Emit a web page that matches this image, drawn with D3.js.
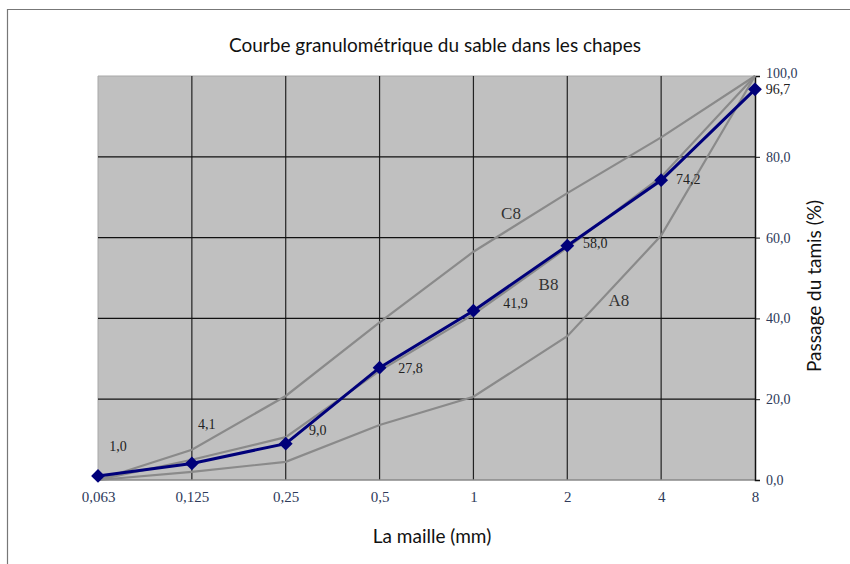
<!DOCTYPE html>
<html><head><meta charset="utf-8">
<script src="https://cdn.jsdelivr.net/npm/d3@7"></script>
<style>body{margin:0;background:#fff;}svg{display:block;}</style>
</head><body>
<svg id="c" width="850" height="564"></svg>
<script>
const sieves = ["0,063","0,125","0,25","0,5","1","2","4","8"];
const sample = [1.0, 4.1, 9.0, 27.8, 41.9, 58.0, 74.2, 96.7];
const curveC8 = [0, 7.5, 20.8, 39.0, 56.5, 71.0, 84.8, 100];
const curveB8 = [0, 5.0, 10.6, 27.0, 41.0, 57.5, 75.0, 100];
const curveA8 = [0, 2.0, 4.5, 13.6, 20.6, 35.6, 60.5, 100];
const yTicks = [0, 20, 40, 60, 80, 100];
const sampleLabelOffsets = [[20,-30],[15,-39],[32,-14],[31,0],[42,-8],[28,-3],[27,-1],[23,0]];
const refLabels = [{name:"C8", at:4.4, v:66}, {name:"B8", at:4.8, v:48.5}, {name:"A8", at:5.55, v:44.5}];

const svg = d3.select("#c");
const L = 98, R = 755, T = 76, B = 480;
const x = d3.scalePoint().domain(sieves).range([L, R]);
const y = d3.scaleLinear().domain([0, 100]).range([B, T]);
const fmt = v => v.toFixed(1).replace(".", ",");
const serif = "'Liberation Serif', 'DejaVu Serif', serif";
const sans = "Lato, 'Open Sans', sans-serif";

// outer frame
svg.append("line").attr("x1",7.5).attr("x2",7.5).attr("y1",9).attr("y2",564).attr("stroke","#777").attr("stroke-width",1.2);
svg.append("line").attr("x1",7.5).attr("x2",850).attr("y1",9.5).attr("y2",9.5).attr("stroke","#777").attr("stroke-width",1.2);

// plot background
svg.append("rect").attr("x",L).attr("y",T).attr("width",R-L).attr("height",B-T).attr("fill","#c0c0c0");
svg.append("line").attr("x1",L).attr("x2",R).attr("y1",T).attr("y2",T).attr("stroke","#a8a8a8").attr("stroke-width",1);
svg.append("line").attr("x1",L).attr("x2",L).attr("y1",T).attr("y2",B).attr("stroke","#a8a8a8").attr("stroke-width",1);

// grid
const g = svg.append("g");
g.selectAll("line.v").data(sieves.slice(1, -1)).enter().append("line")
  .attr("x1", d => x(d)).attr("x2", d => x(d)).attr("y1", T).attr("y2", B)
  .attr("stroke", "#222").attr("stroke-width", 1.2);
g.selectAll("line.h").data(yTicks.slice(1, -1)).enter().append("line")
  .attr("x1", L).attr("x2", R).attr("y1", d => y(d)).attr("y2", d => y(d))
  .attr("stroke", "#111").attr("stroke-width", 1.3);

// x axis (bottom)
svg.append("line").attr("x1",L).attr("x2",R).attr("y1",B).attr("y2",B).attr("stroke","#888").attr("stroke-width",1.5);

// right y axis
const yAxis = d3.axisRight(y).tickValues(yTicks).tickSize(5).tickPadding(6).tickFormat(fmt);
const ya = svg.append("g").attr("transform", `translate(${R},0)`).call(yAxis);
ya.select(".domain").attr("stroke","#111").attr("stroke-width",1.5);
ya.selectAll(".tick line").attr("stroke","#111");
ya.selectAll("text").attr("font-family",serif).attr("font-size",14).attr("fill","#2e3a5a");
ya.selectAll(".tick").filter(d => d === 100).select("text").attr("dy","0.1em");

// x tick labels
const xa = svg.append("g").attr("transform", `translate(0,${B})`)
  .call(d3.axisBottom(x).tickSize(0).tickPadding(11));
xa.select(".domain").remove();
xa.selectAll("text").attr("font-family",serif).attr("font-size",15).attr("fill","#2e3a5a");

// reference curves
const line = d3.line().x((d, i) => x(sieves[i])).y(d => y(d));
[curveC8, curveB8, curveA8].forEach(c => {
  svg.append("path").datum(c).attr("d", line).attr("fill","none").attr("stroke","#8a8a8a").attr("stroke-width",2.2);
});

// sample curve
svg.append("path").datum(sample).attr("d", line).attr("fill","none").attr("stroke","#00007a").attr("stroke-width",3);
const sym = d3.symbol().type(d3.symbolSquare).size(95);
svg.selectAll("path.m").data(sample).enter().append("path")
  .attr("d", sym).attr("fill","#00007a")
  .attr("transform", (d, i) => `translate(${x(sieves[i])},${y(d)}) rotate(45)`);

// data labels
svg.selectAll("text.dl").data(sample).enter().append("text")
  .attr("x", (d, i) => x(sieves[i]) + sampleLabelOffsets[i][0])
  .attr("y", (d, i) => y(d) + sampleLabelOffsets[i][1] + 5)
  .attr("text-anchor","middle")
  .attr("font-family",serif).attr("font-size",14).attr("fill","#222")
  .text(d => fmt(d));

// reference labels
svg.selectAll("text.rl").data(refLabels).enter().append("text")
  .attr("x", d => L + (R - L) / 7 * d.at).attr("y", d => y(d.v) + 6)
  .attr("text-anchor","middle")
  .attr("font-family",serif).attr("font-size",17).attr("fill","#333")
  .text(d => d.name);

// titles
svg.append("text").attr("x",435).attr("y",52).attr("text-anchor","middle")
  .attr("font-family",sans).attr("font-size",19).attr("fill","#111")
  .text("Courbe granulométrique du sable dans les chapes");
svg.append("text").attr("x",432).attr("y",543).attr("text-anchor","middle")
  .attr("font-family",sans).attr("font-size",19).attr("fill","#111")
  .text("La maille (mm)");
svg.append("text").attr("transform","translate(821,286) rotate(-90)").attr("text-anchor","middle")
  .attr("font-family",sans).attr("font-size",19).attr("fill","#111")
  .text("Passage du tamis (%)");
</script>
</body></html>
